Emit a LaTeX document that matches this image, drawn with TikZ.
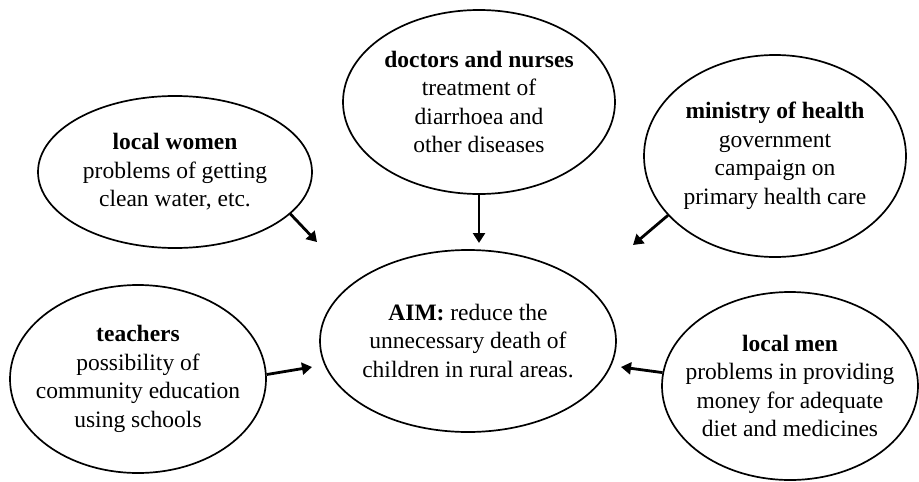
\documentclass[tikz,border=0pt]{standalone}
\usepackage{fontspec}
\setmainfont{Liberation Serif}
\usetikzlibrary{shapes.geometric, arrows.meta}

\begin{document}
\begin{tikzpicture}[x=1pt, y=-1pt,
    bubble/.style={draw, ellipse, line width=1.7pt, inner sep=-30pt, align=center,
        font=\fontsize{23.5}{28.5}\selectfont},
    feed/.style={-{Triangle[length=10pt, width=12pt]}, line width=2.8pt}]
    % Khung hình
    \useasboundingbox (0,0) rectangle (919,482);

    % 1. Ô mục tiêu ở giữa
    \node[bubble, minimum width=296pt, minimum height=182pt] (aim) at (468,341)
        {\textbf{AIM:} reduce the\\ unnecessary death of\\ children in rural areas.};

    % 2. Các nhóm xung quanh
    \node[bubble, minimum width=274pt, minimum height=152pt] (women) at (175,172)
        {\textbf{local women}\\ problems of getting\\ clean water, etc.};
    \node[bubble, minimum width=272pt, minimum height=184pt] (doctors) at (479,102)
        {\textbf{doctors and nurses}\\ treatment of\\ diarrhoea and\\ other diseases};
    \node[bubble, minimum width=262pt, minimum height=202pt] (ministry) at (775,156)
        {\textbf{ministry of health}\\ government\\ campaign on\\ primary health care};
    \node[bubble, minimum width=256pt, minimum height=188pt] (teachers) at (138,379)
        {\textbf{teachers}\\ possibility of\\ community education\\ using schools};
    \node[bubble, minimum width=256pt, minimum height=188pt] (men) at (790,386)
        {\textbf{local men}\\ problems in providing\\ money for adequate\\ diet and medicines};

    % 3. Đầu mũi tên (dừng trước ô mục tiêu)
    \coordinate (tipW) at (317,242);
    \coordinate (tipD) at (479,243);
    \coordinate (tipM) at (633,245);
    \coordinate (tipT) at (312,367);
    \coordinate (tipL) at (621,367);

    % 4. Mũi tên
    \draw[feed] (women.-20) -- (tipW);
    \draw[feed] (doctors.south) -- (tipD);
    \draw[feed] (ministry.-151) -- (tipM);
    \draw[feed] (teachers.2) -- (tipT);
    \draw[feed] (men.174) -- (tipL);

\end{tikzpicture}
\end{document}
